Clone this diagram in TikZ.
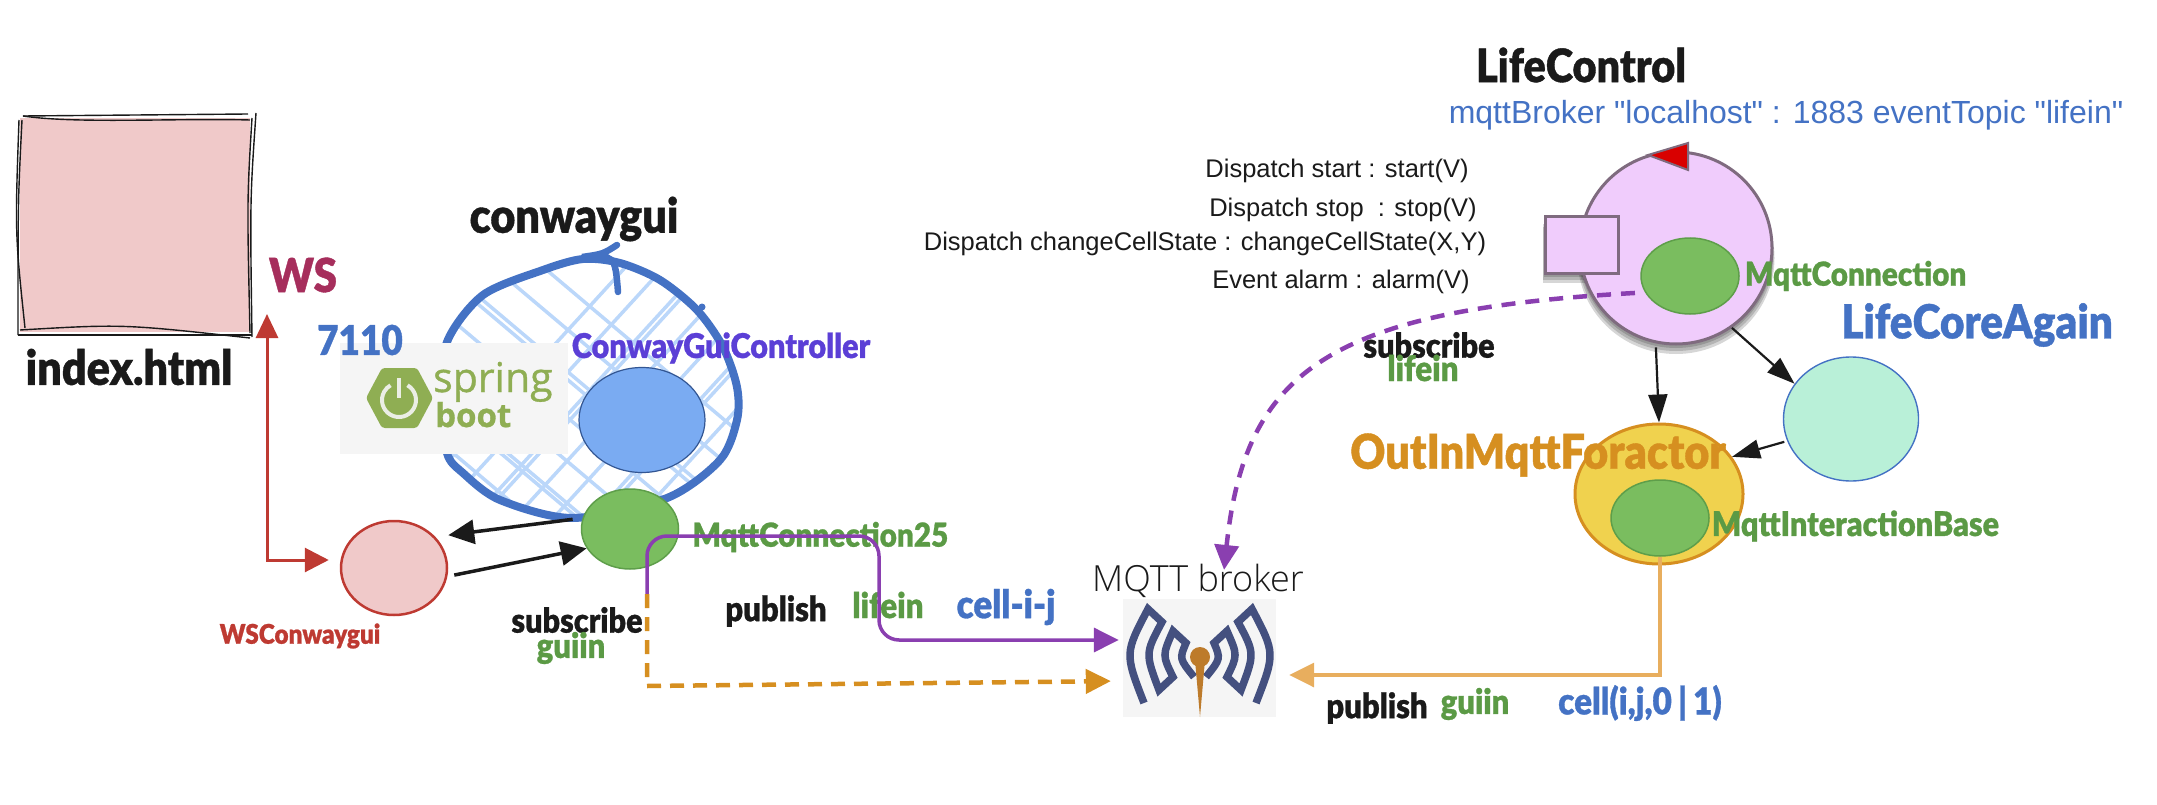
\documentclass[tikz,border=0pt]{standalone}
\usepackage{fontspec}
\setmainfont{Liberation Sans}
\newfontfamily\plainfont{Liberation Sans}
\newfontfamily\labelfont{Lato Black}[FakeStretch=0.9,FakeBold=0.8]
\newfontfamily\logofont{Open Sans}[FakeBold=0.9]
\newfontfamily\handfont{Open Sans Light}
\usetikzlibrary{positioning,shapes.geometric,arrows.meta}

\definecolor{inkblack}{HTML}{1A1A1A}
\definecolor{pinkfill}{HTML}{F0C9C9}
\definecolor{redline}{HTML}{BE3A32}
\definecolor{wine}{HTML}{A62E5C}
\definecolor{officeblue}{HTML}{4472C4}
\definecolor{hatchblue}{HTML}{BBD7FA}
\definecolor{skyfill}{HTML}{7AABF2}
\definecolor{leaf}{HTML}{7ABD5F}
\definecolor{leafline}{HTML}{5E9E4A}
\definecolor{labelgreen}{HTML}{5B9A45}
\definecolor{violetlabel}{HTML}{5B3FD6}
\definecolor{purpleline}{HTML}{8A3FB0}
\definecolor{amber}{HTML}{D68F20}
\definecolor{amberlight}{HTML}{E8AE5E}
\definecolor{yellowfill}{HTML}{F0D24E}
\definecolor{lilac}{HTML}{F0CCFC}
\definecolor{lilacline}{HTML}{7F6B7F}
\definecolor{mint}{HTML}{B9F0D8}
\definecolor{logogreen}{HTML}{8FAE53}
\definecolor{logoback}{HTML}{F5F5F5}
\definecolor{wavecolor}{HTML}{44507F}
\definecolor{dotcolor}{HTML}{BD7B2B}

\tikzset{
  main node/.style={ellipse, draw, inner sep=0pt},
  green node/.style={main node, fill=leaf, draw=leafline, line width=1.5pt},
  big label/.style={font=\labelfont\fontsize{#1}{#1}\selectfont, inner sep=0pt},
  plain label/.style={font=\plainfont\fontsize{#1}{#1}\selectfont, inner sep=0pt},
  black arrow/.style={-{Triangle[length=26pt,width=24pt]}, line width=3.5pt, color=inkblack},
  thin arrow/.style={-{Triangle[length=28pt,width=19pt]}, line width=2.2pt, color=inkblack},
}

\begin{document}
\begin{tikzpicture}[x=1pt,y=-1pt]
	\useasboundingbox (0,0) rectangle (2157,805);

	% index page
	\node[fill=pinkfill, minimum width=230pt, minimum height=214pt, inner sep=0pt] (indexbox) at (135,225) {};
	\draw[inkblack, line width=1.4pt] (23,116) -- (248,114);
	\draw[inkblack, line width=1.4pt] (23,116) .. controls (77,124) and (177,118) .. (250,120);
	\draw[inkblack, line width=1.4pt] (256,113) .. controls (250,200) .. (252,337);
	\draw[inkblack, line width=1.4pt] (252,118) .. controls (247,200) .. (250,333);
	\draw[inkblack, line width=1.4pt] (18,335) -- (252,335);
	\draw[inkblack, line width=1.4pt] (20,330) .. controls (123,324) .. (250,338);
	\draw[inkblack, line width=1.4pt] (22,120) .. controls (18,200) .. (18,335);
	\draw[inkblack, line width=1.4pt] (19,120) .. controls (15,233) .. (25,328);
	\node[big label=48, inkblack] (indexlabel) at (129,367) {index.html};

	% conwaygui sketch
	\begin{scope}
		\clip plot[smooth cycle] coordinates {(583,259) (620,263) (660,280) (697,310) (723,347) (737,387) (737,420) (720,460) (667,498) (573,518) (500,500) (463,473) (447,453) (443,400) (447,342) (483,295) (543,270)};
		\foreach \c in {-70,-28,14,22,60,104,146,152,192,236,276,284,326,368} {
			\draw[hatchblue, line width=3.5pt] (440,250+\c) -- (760,250+\c+270);
		}
		\foreach \c in {220,262,304,312,350,392,434,442,484,526,566,576,616,658} {
			\draw[hatchblue, line width=3.5pt] (440,250+\c) -- (760,250+\c-350);
		}
	\end{scope}
	\draw[officeblue, line width=8pt, line cap=round] plot[smooth cycle] coordinates {(583,259) (620,263) (660,280) (697,310) (723,347) (737,387) (737,420) (720,460) (667,498) (573,518) (500,500) (463,473) (447,453) (443,400) (447,342) (483,295) (543,270)};
	\draw[officeblue, line width=6.5pt, line cap=round] (617,245) .. controls (603,254) .. (582,257) .. controls (615,255) .. (618,292);
	\fill[officeblue] (702,307) circle (3.5);
	\node[big label=48, inkblack] (conwaylabel) at (574,219) {conwaygui};
	\node[big label=47, wine] (wslabel) at (303,275) {WS};

	% spring boot logo
	\node[fill=logoback, minimum width=228pt, minimum height=111pt, inner sep=0pt] (springbox) at (454,398) {};
	\fill[logogreen, rounded corners=3pt] (366,398) -- (382,368) -- (417,368) -- (433,398) -- (417,428) -- (382,428) -- cycle;
	\draw[logoback!90!logogreen, line width=4pt] (407.5,385.3) arc[start angle=-60, end angle=240, radius=17];
	\draw[logoback!90!logogreen, line width=4pt] (399,378) -- (399,398);
	\node[font=\logofont\fontsize{41}{41}\selectfont, logogreen, inner sep=0pt, anchor=base west] (springtext) at (433,392) {spring};
	\node[font=\logofont\bfseries\fontsize{33}{33}\selectfont, logogreen, inner sep=0pt, anchor=base west] (boottext) at (435,427) {boot};
	\node[big label=41, officeblue] (portlabel) at (360,340) {7110};

	\node[main node, fill=skyfill, draw=officeblue!75!black, line width=1.2pt, minimum width=126pt, minimum height=105pt] (controller) at (642,420) {};
	\node[big label=34, violetlabel] (controllerlabel) at (721,348) {ConwayGuiController};

	\node[green node, minimum width=97pt, minimum height=80pt] (mqtt25) at (630,529) {};
	\node[big label=33, labelgreen, right=13pt of mqtt25, yshift=-8pt] (mqtt25label) {MqttConnection25};

	\node[main node, fill=pinkfill, draw=redline, line width=2.5pt, minimum width=106pt, minimum height=94pt] (wsconway) at (394,568) {};
	\node[big label=27, redline] (wsconwaylabel) at (300,636) {WSConwaygui};

	% broker
	\node[fill=logoback, minimum width=153pt, minimum height=118pt, inner sep=0pt] (mqttbox) at (1199.5,658) {};
	\foreach \s in {1,-1} {
		\draw[wavecolor, line width=7.5pt, xshift=1200pt, yshift=-657pt, x=\s pt]
			(-56,46) .. controls (-75.3,-3.7) .. (-52,-48) -- (-38,-35) .. controls (-54.8,-3.7) .. (-41,33) -- (-27,20)
			.. controls (-37.7,-1.7) .. (-27,-26) -- (-14,-14) .. controls (-20.7,1.7) .. (-6,20);
	}
	\fill[dotcolor] (1195,660) -- (1200,717) -- (1205,660) -- cycle;
	\fill[dotcolor] (1200,657) circle (10);
	\node[font=\handfont\fontsize{36}{36}\selectfont, inkblack, inner sep=0pt] (brokerlabel) at (1198,581) {MQTT broker};

	% life control
	\node[big label=46, inkblack] (lifelabel) at (1581,65) {LifeControl};
	\node[plain label=32, officeblue] (topiclabel) at (1786,115) {mqttBroker "localhost" : 1883 eventTopic "lifein"};
	\node[plain label=25.5, inkblack] (startlabel) at (1337,171) {Dispatch start : start(V)};
	\node[plain label=25.5, inkblack] (stoplabel) at (1343,210) {Dispatch stop\ \ : stop(V)};
	\node[plain label=25.5, inkblack] (changelabel) at (1205,244) {Dispatch changeCellState : changeCellState(X,Y)};
	\node[plain label=25.5, inkblack] (alarmlabel) at (1341,282) {Event alarm : alarm(V)};

	% soft shadows under the control circle and its port
	\foreach \d in {10,7,4} {
		\fill[black, opacity=.16] (1676,248+\d) ellipse (96+\d/4 and 96);
		\fill[black, opacity=.16] (1545-\d/4,217+\d) rectangle (1618,273+\d);
	}
	\node[main node, fill=lilac, draw=lilacline, line width=3pt, minimum width=192pt, minimum height=192pt] (lifecontrol) at (1676,248) {};
	\fill[red!85!black, draw=lilacline, line width=2pt] (1688,143) -- (1648,155) -- (1688,170) -- cycle;
	\node[draw=lilacline, fill=lilac, line width=3pt, minimum width=73pt, minimum height=56pt, inner sep=0pt] (lifeport) at (1581.5,245) {};
	\node[green node, minimum width=98pt, minimum height=76pt] (lifeconn) at (1690,276) {};
	\node[big label=33, labelgreen, right=5pt of lifeconn] (lifeconnlabel) {MqttConnection};

	\node[main node, fill=mint, draw=officeblue, line width=1.4pt, minimum width=135pt, minimum height=124pt] (lifecore) at (1851,419) {};
	\node[big label=47, officeblue] (lifecorelabel) at (1977,325) {LifeCoreAgain};

	\node[main node, fill=yellowfill, draw=amber, line width=3pt, minimum width=168pt, minimum height=140pt] (foractor) at (1659,494) {};
	\node[big label=48, amber] (foractorlabel) at (1538,455) {OutInMqttForactor};
	\node[green node, minimum width=98pt, minimum height=76pt] (interaction) at (1660,518) {};
	\node[big label=34, labelgreen, right=0pt of interaction, yshift=-8pt, xshift=2pt] (interactionlabel) {MqttInteractionBase};

	% labels of the topics
	\node[big label=34, inkblack] (sub1) at (577,620) {subscribe};
	\node[big label=34.5, labelgreen] (guiin1) at (571,648) {guiin};
	\node[big label=34.5, inkblack] (pub1) at (776,611) {publish};
	\node[big label=35, labelgreen] (lifein1) at (888,605) {lifein};
	\node[big label=39, officeblue] (celllabel) at (1006,607) {cell-i-j};
	\node[big label=34, inkblack] (sub2) at (1429,345) {subscribe};
	\node[big label=35, labelgreen] (lifein2) at (1423,368) {lifein};
	\node[big label=34.5, inkblack] (pub2) at (1377,708) {publish};
	\node[big label=34.5, labelgreen] (guiin2) at (1475,704) {guiin};
	\node[big label=37, officeblue] (cellstate) at (1640,703) {cell(i,j,0\,|\,1)};

	% connectors
	\coordinate (wsport) at (267,314);
	\coordinate (split) at (647,594);
	\draw[{Triangle[length=24pt,width=22pt]}-{Triangle[length=24pt,width=24pt]}, redline, line width=3pt, shorten >=11pt] (wsport) -- (267,560) -- (wsconway.west |- 0,560);
	\draw[black arrow, shorten <=10pt, shorten >=13pt] (mqtt25.167) -- (wsconway.37);
	\draw[black arrow, shorten <=7pt] (wsconway.-9) -- (mqtt25.204);

	\draw[-{Triangle[length=25pt,width=24pt]}, purpleline, line width=3.5pt, rounded corners=20pt, shorten >=4pt] (split) -- (647,536) -- (879,536) -- (879,640) -- (mqttbox.west |- 0,640);
	\draw[-{Triangle[length=25pt,width=24pt]}, amber, line width=4.5pt, dashed, dash pattern=on 14pt off 9pt, shorten >=12pt] (split) -- (647,686) -- (mqttbox.west |- 0,681);
	\draw[-{Triangle[length=25pt,width=24pt]}, amberlight, line width=3.5pt, shorten >=13pt] (interaction.south) |- (mqttbox.east |- 0,675);
	\draw[-{Triangle[length=25pt,width=24pt]}, purpleline, line width=4.5pt, dashed, dash pattern=on 14pt off 10pt, shorten <=10pt, shorten >=29pt] (lifeconn.200) .. controls (1330,310) and (1245,370) .. (mqttbox.70);

	\draw[thin arrow, shorten <=4pt] (lifecontrol.-102) -- (foractor.north);
	\draw[thin arrow] (lifecontrol.-55) -- (lifecore.148);
	\draw[thin arrow, shorten <=3pt] (lifecore.199) -- (foractor.27);
\end{tikzpicture}
\end{document}
